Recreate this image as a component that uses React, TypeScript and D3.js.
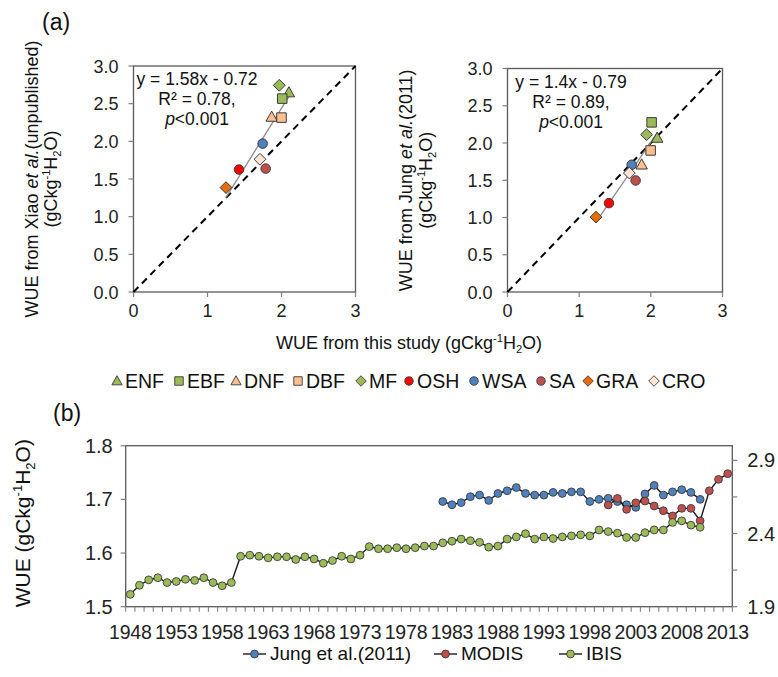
import React from "react";
import * as d3 from "d3";

const FONT = "'Liberation Sans', Arial, sans-serif";

// ---------- Panel (a) data ----------
const pftNames = ["ENF", "EBF", "DNF", "DBF", "MF", "OSH", "WSA", "SA", "GRA", "CRO"];
const pftShapes = ["triangle", "square", "triangle", "square", "diamond", "circle", "circle", "circle", "diamond", "diamond"];
const pftColors = ["#9BBB59", "#9BBB59", "#FAC090", "#FAC090", "#9BBB59", "#FF0000", "#4F81BD", "#C0504D", "#E46C0A", "#FCE4D6"];

const thisStudyXiao = [2.1, 2.01, 1.867, 2.0, 1.97, 1.426, 1.745, 1.786, 1.25, 1.709];
const xiaoWUE = [2.647, 2.567, 2.323, 2.315, 2.744, 1.625, 1.97, 1.638, 1.386, 1.762];

const thisStudyJung = [2.089, 2.011, 1.872, 1.997, 1.941, 1.416, 1.733, 1.788, 1.235, 1.7];
const jungWUE = [2.067, 2.277, 1.708, 1.9, 2.112, 1.193, 1.708, 1.497, 1.005, 1.597];

const scatterTicksY = [0, 0.5, 1, 1.5, 2, 2.5, 3];
const scatterTicksX = [0, 1, 2, 3];

// ---------- Panel (b) data ----------
const years = [
  1948, 1949, 1950, 1951, 1952, 1953, 1954, 1955, 1956, 1957, 1958, 1959, 1960, 1961, 1962, 1963, 1964,
  1965, 1966, 1967, 1968, 1969, 1970, 1971, 1972, 1973, 1974, 1975, 1976, 1977, 1978, 1979, 1980, 1981,
  1982, 1983, 1984, 1985, 1986, 1987, 1988, 1989, 1990, 1991, 1992, 1993, 1994, 1995, 1996, 1997, 1998,
  1999, 2000, 2001, 2002, 2003, 2004, 2005, 2006, 2007, 2008, 2009, 2010, 2011, 2012, 2013,
];
const yearLabels = [1948, 1953, 1958, 1963, 1968, 1973, 1978, 1983, 1988, 1993, 1998, 2003, 2008, 2013];

// IBIS 1948-2010 (left axis)
const ibis = [
  1.523, 1.54, 1.55, 1.554, 1.545, 1.547, 1.551, 1.549, 1.554, 1.545, 1.539, 1.545, 1.594, 1.596, 1.594,
  1.591, 1.593, 1.593, 1.588, 1.593, 1.589, 1.581, 1.586, 1.594, 1.589, 1.596, 1.612, 1.608, 1.608, 1.61,
  1.608, 1.61, 1.613, 1.613, 1.619, 1.622, 1.626, 1.623, 1.62, 1.611, 1.613, 1.626, 1.63, 1.636, 1.626,
  1.63, 1.627, 1.63, 1.632, 1.634, 1.632, 1.643, 1.64, 1.637, 1.629, 1.629, 1.638, 1.643, 1.643, 1.657,
  1.66, 1.652, 1.648,
];
const ibisStart = 1948;

// Jung et al. (2011) 1982-2010 (left axis)
const jung = [
  1.696, 1.69, 1.694, 1.705, 1.708, 1.698, 1.711, 1.716, 1.722, 1.711, 1.708, 1.708, 1.713, 1.711, 1.714,
  1.714, 1.696, 1.7, 1.702, 1.696, 1.69, 1.685, 1.71, 1.726, 1.708, 1.714, 1.718, 1.713, 1.7,
];
const jungStart = 1982;

// MODIS 2000-2013 (right axis)
const modis = [2.595, 2.64, 2.565, 2.61, 2.622, 2.588, 2.556, 2.52, 2.572, 2.572, 2.487, 2.692, 2.77, 2.809];
const modisStart = 2000;

const leftTicksB = [1.5, 1.6, 1.7, 1.8];
const rightTicksB = [1.9, 2.15, 2.4, 2.65, 2.9];
const rightLabelsB = [1.9, 2.4, 2.9];

const seriesNames = ["Jung et al.(2011)", "MODIS", "IBIS"];
const seriesColors = ["#4F81BD", "#C0504D", "#9BBB59"];

// ---------- helpers ----------
function markerPath(shape: string, s: number): string {
  const h = s / 2;
  if (shape === "square") return `M${-h},${-h}H${h}V${h}H${-h}Z`;
  if (shape === "diamond") {
    const d = s * 0.62;
    return `M0,${-d}L${d},0L0,${d}L${-d},0Z`;
  }
  if (shape === "triangle") {
    return `M0,${-s * 0.62}L${s * 0.6},${s * 0.45}L${-s * 0.6},${s * 0.45}Z`;
  }
  return d3.arc()({ innerRadius: 0, outerRadius: h, startAngle: 0, endAngle: 2 * Math.PI }) as string;
}

const AXIS = "#7F7F7F";
const BORDER = "#595959";

function Unit({ size }: { size: number }) {
  const small = size * 0.62;
  return (
    <>
      <tspan>(gCkg</tspan>
      <tspan fontSize={small} dy={-size * 0.38}>-1</tspan>
      <tspan dy={size * 0.38}>H</tspan>
      <tspan fontSize={small} dy={size * 0.22}>2</tspan>
      <tspan dy={-size * 0.22}>O)</tspan>
    </>
  );
}

type ScatterProps = {
  left: number;
  right: number;
  top: number;
  bottom: number;
  xs: number[];
  ys: number[];
  eq: string;
  r2: string;
  slope: number;
  intercept: number;
  title1: React.ReactNode;
  titleX1: number;
  titleX2: number;
  textCx: number;
};

function Scatter(p: ScatterProps) {
  const x = d3.scaleLinear().domain([0, 3]).range([p.left, p.right]);
  const y = d3.scaleLinear().domain([0, 3]).range([p.bottom, p.top]);
  const xmin = d3.min(p.xs) as number;
  const xmax = d3.max(p.xs) as number;
  const cy = (p.top + p.bottom) / 2;
  const fs = 18;
  return (
    <g>
      <rect x={p.left} y={p.top} width={p.right - p.left} height={p.bottom - p.top} fill="none" stroke={BORDER} strokeWidth={1.3} />
      {scatterTicksY.map((t) => (
        <g key={"y" + t}>
          <line x1={p.left - 5} x2={p.left} y1={y(t)} y2={y(t)} stroke={AXIS} strokeWidth={1.2} />
          <text x={p.left - 15} y={y(t) + 6.5} textAnchor="end" fontSize={fs} fill="#222">
            {t.toFixed(1)}
          </text>
        </g>
      ))}
      {scatterTicksX.map((t) => (
        <g key={"x" + t}>
          <line x1={x(t)} x2={x(t)} y1={p.bottom} y2={p.bottom + 5} stroke={AXIS} strokeWidth={1.2} />
          <text x={x(t)} y={p.bottom + 25} textAnchor="middle" fontSize={fs} fill="#222">
            {t}
          </text>
        </g>
      ))}
      <line x1={x(0)} y1={y(0)} x2={x(3)} y2={y(3)} stroke="#000" strokeWidth={2} strokeDasharray="7,5" />
      <line
        x1={x(xmin)}
        y1={y(p.slope * xmin + p.intercept)}
        x2={x(xmax)}
        y2={y(p.slope * xmax + p.intercept)}
        stroke="#8C8C8C"
        strokeWidth={1.3}
      />
      {p.xs.map((v, i) => (
        <path
          key={i}
          d={markerPath(pftShapes[i], 9.5)}
          transform={`translate(${x(v)},${y(p.ys[i])})`}
          fill={pftColors[i]}
          stroke="#3A3A3A"
          strokeWidth={1}
        />
      ))}
      <text x={p.textCx} y={p.top + 19} textAnchor="middle" fontSize={17.5} fill="#111">
        {p.eq}
      </text>
      <text x={p.textCx} y={p.top + 39} textAnchor="middle" fontSize={17.5} fill="#111">
        {p.r2}
      </text>
      <text x={p.textCx} y={p.top + 59} textAnchor="middle" fontSize={17.5} fill="#111">
        <tspan fontStyle="italic">p</tspan>
        <tspan>&lt;0.001</tspan>
      </text>
      <text transform={`translate(${p.titleX1},${cy}) rotate(-90)`} textAnchor="middle" fontSize={fs} fill="#111">
        {p.title1}
      </text>
      <text transform={`translate(${p.titleX2},${cy}) rotate(-90)`} textAnchor="middle" fontSize={fs} fill="#111">
        <Unit size={fs} />
      </text>
    </g>
  );
}

function PanelB() {
  const L = 125.7;
  const R = 732.3;
  const T = 445.7;
  const B = 606.7;
  const x = d3.scaleBand<number>().domain(years).range([L, R]).padding(0);
  const bw = x.bandwidth();
  const cx = (yr: number) => (x(yr) as number) + bw / 2;
  const yL = d3.scaleLinear().domain([1.5, 1.8]).range([B, T]);
  const yR = d3.scaleLinear().domain([1.9, 3.0]).range([B, T]);

  const mk = (vals: number[], start: number) => vals.map((v, i) => ({ yr: start + i, v }));
  const ib = mk(ibis, ibisStart);
  const ju = mk(jung, jungStart);
  const mo = mk(modis, modisStart);
  const lineL = d3
    .line<{ yr: number; v: number }>()
    .x((d) => cx(d.yr))
    .y((d) => yL(d.v));
  const lineR = d3
    .line<{ yr: number; v: number }>()
    .x((d) => cx(d.yr))
    .y((d) => yR(d.v));

  const fs = 20;
  const r = 3.9;
  const series = [
    { data: ju, line: lineL, y: yL, color: seriesColors[0] },
    { data: mo, line: lineR, y: yR, color: seriesColors[1] },
    { data: ib, line: lineL, y: yL, color: seriesColors[2] },
  ];
  const boundaries = [...years.map((yr) => x(yr) as number), R];

  const legendX = [243, 434, 559];
  const legendY = 660;

  return (
    <g>
      <rect x={L} y={T} width={R - L} height={B - T} fill="none" stroke={BORDER} strokeWidth={1.3} />
      {boundaries.map((bx, i) => (
        <line key={i} x1={bx} x2={bx} y1={B} y2={B + 5} stroke={AXIS} strokeWidth={1.1} />
      ))}
      {yearLabels.map((yr) => (
        <text key={yr} x={cx(yr)} y={B + 32} textAnchor="middle" fontSize={19.5} letterSpacing={-0.2} fill="#222">
          {yr}
        </text>
      ))}
      {leftTicksB.map((t) => (
        <g key={t}>
          <line x1={L - 5} x2={L} y1={yL(t)} y2={yL(t)} stroke={AXIS} strokeWidth={1.2} />
          <text x={L - 13} y={yL(t) + 7} textAnchor="end" fontSize={fs} fill="#222">
            {t.toFixed(1)}
          </text>
        </g>
      ))}
      {rightTicksB.map((t) => (
        <line key={t} x1={R} x2={R + 5} y1={yR(t)} y2={yR(t)} stroke={AXIS} strokeWidth={1.2} />
      ))}
      {rightLabelsB.map((t) => (
        <text key={t} x={R + 15} y={yR(t) + 7} textAnchor="start" fontSize={fs} fill="#222">
          {t.toFixed(1)}
        </text>
      ))}
      {series.map((s, si) => (
        <g key={si}>
          <path d={s.line(s.data) as string} fill="none" stroke="#1A1A1A" strokeWidth={1.4} />
          {s.data.map((d, i) => (
            <circle key={i} cx={cx(d.yr)} cy={s.y(d.v)} r={r} fill={s.color} stroke="#3A3A3A" strokeWidth={0.9} />
          ))}
        </g>
      ))}
      <text transform={`translate(30,${(T + B) / 2 - 3}) rotate(-90)`} textAnchor="middle" fontSize={21} fill="#111">
        <tspan>WUE </tspan>
        <Unit size={21} />
      </text>
      <text x={53} y={421} fontSize={23} fill="#111">
        (b)
      </text>
      {seriesNames.map((n, i) => (
        <g key={n}>
          <line x1={legendX[i]} x2={legendX[i] + 23} y1={legendY - 6} y2={legendY - 6} stroke="#1A1A1A" strokeWidth={1.4} />
          <circle cx={legendX[i] + 11.5} cy={legendY - 6} r={r} fill={seriesColors[i]} stroke="#3A3A3A" strokeWidth={0.9} />
          <text x={legendX[i] + 27} y={legendY} fontSize={19} fill="#111">
            {n}
          </text>
        </g>
      ))}
    </g>
  );
}

function LegendA() {
  const markX = [117, 179, 236, 298, 361, 409, 474, 541, 588, 654];
  const y = 381;
  return (
    <g>
      {pftNames.map((n, i) => (
        <g key={n}>
          <path
            d={markerPath(pftShapes[i], 8.5)}
            transform={`translate(${markX[i]},${y})`}
            fill={pftColors[i]}
            stroke="#3A3A3A"
            strokeWidth={0.9}
          />
          <text x={markX[i] + 8} y={y + 7} fontSize={19.5} fill="#111">
            {n}
          </text>
        </g>
      ))}
    </g>
  );
}

export default function App() {
  return (
    <svg
      width={778}
      height={677}
      viewBox="0 0 778 677"
      style={{ position: "absolute", left: 0, top: 0, background: "#fff" }}
      fontFamily={FONT}
    >
      <rect width={778} height={677} fill="#fff" />
      <text x={42} y={30} fontSize={23} fill="#111">
        (a)
      </text>
      <Scatter
        left={133.5}
        right={355.5}
        top={66}
        bottom={292}
        xs={thisStudyXiao}
        ys={xiaoWUE}
        eq="y = 1.58x - 0.72"
        r2="R² = 0.78,"
        slope={1.58}
        intercept={-0.72}
        titleX1={38}
        titleX2={57}
        textCx={197}
        title1={
          <>
            <tspan>WUE from Xiao </tspan>
            <tspan fontStyle="italic">et al.</tspan>
            <tspan>(unpublished)</tspan>
          </>
        }
      />
      <Scatter
        left={507.5}
        right={722.5}
        top={68.5}
        bottom={292}
        xs={thisStudyJung}
        ys={jungWUE}
        eq="y = 1.4x - 0.79"
        r2="R² = 0.89,"
        slope={1.4}
        intercept={-0.79}
        titleX1={412}
        titleX2={432}
        textCx={571}
        title1={
          <>
            <tspan>WUE from Jung </tspan>
            <tspan fontStyle="italic">et al.</tspan>
            <tspan>(2011)</tspan>
          </>
        }
      />
      <text x={409} y={349} textAnchor="middle" fontSize={18} fill="#111">
        <tspan>WUE from this study </tspan>
        <Unit size={18} />
      </text>
      <LegendA />
      <PanelB />
    </svg>
  );
}
